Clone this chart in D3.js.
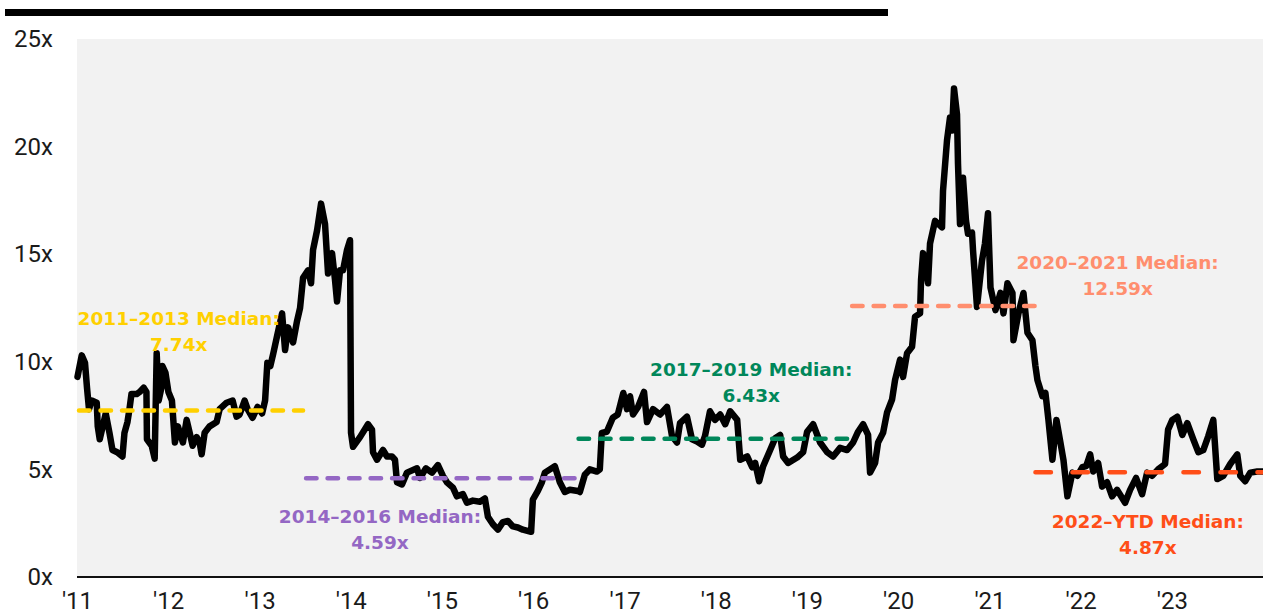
<!DOCTYPE html>
<html>
<head>
<meta charset="utf-8">
<script src="https://cdn.jsdelivr.net/npm/d3@7"></script>
<style>
  body { margin: 0; background: #fff; }
  svg { display: block; }
  .axis text { font-family: Roboto, "Liberation Sans", sans-serif; font-size: 24px; fill: #1a1a1a; }
  .note { font-family: "DejaVu Sans", sans-serif; font-weight: bold; font-size: 18.5px; }
</style>
</head>
<body>
<div id="chartContainer"></div>
<script>
// multiple over time
var dates = [
  // 2011
  "2011-01-03","2011-01-20","2011-02-02","2011-02-10","2011-02-18","2011-03-01","2011-03-21","2011-03-25",
  "2011-04-02","2011-04-26","2011-05-11","2011-05-23","2011-06-11","2011-07-02","2011-07-10","2011-07-22",
  "2011-07-30","2011-08-07","2011-08-28","2011-09-09","2011-09-25","2011-10-06","2011-10-08","2011-10-27",
  "2011-11-08","2011-11-16","2011-11-24","2011-12-05","2011-12-09","2011-12-21",
  // 2012
  "2012-01-02","2012-01-16","2012-01-28","2012-02-09","2012-02-29","2012-03-15","2012-03-27","2012-04-08",
  "2012-04-24","2012-05-06","2012-05-14","2012-05-26","2012-06-15","2012-07-13","2012-07-25","2012-08-22",
  "2012-09-15","2012-10-01","2012-10-13","2012-11-02","2012-11-14","2012-12-04","2012-12-24",
  // 2013
  "2013-01-11","2013-01-23","2013-02-01","2013-02-13","2013-02-25","2013-03-12","2013-04-01","2013-04-13",
  "2013-04-25","2013-05-15","2013-05-31","2013-06-12","2013-06-24","2013-07-14","2013-07-26","2013-08-03",
  "2013-08-19","2013-09-04","2013-09-20","2013-10-02","2013-10-18","2013-10-30","2013-11-07","2013-11-19",
  "2013-12-01","2013-12-17","2013-12-29",
  // 2014
  "2014-01-02","2014-01-10","2014-02-07","2014-03-11","2014-03-27","2014-03-31","2014-04-16","2014-05-10",
  "2014-05-26","2014-06-15","2014-06-27","2014-07-05","2014-07-25","2014-08-14","2014-09-23","2014-10-05",
  "2014-10-29","2014-11-22","2014-12-16",
  // 2015
  "2015-01-05","2015-01-21","2015-02-14","2015-03-02","2015-03-26","2015-04-11","2015-05-05","2015-06-02",
  "2015-06-22","2015-07-04","2015-07-24","2015-08-13","2015-09-02","2015-09-22","2015-10-12","2015-11-01",
  "2015-11-21","2015-12-24","2015-12-31",
  // 2016
  "2016-01-20","2016-02-05","2016-02-17","2016-03-28","2016-04-17","2016-05-07","2016-05-27","2016-06-28",
  "2016-07-06","2016-07-26","2016-08-15","2016-09-12","2016-09-24","2016-10-02","2016-10-22","2016-11-15",
  "2016-12-05","2016-12-27",
  // 2017
  "2017-01-11","2017-01-23","2017-02-04","2017-02-24","2017-03-20","2017-04-01","2017-04-25","2017-05-23",
  "2017-06-20","2017-07-10","2017-07-30","2017-08-11","2017-09-08","2017-09-28","2017-10-18","2017-11-07",
  "2017-11-19","2017-12-09","2017-12-29",
  // 2018
  "2018-01-19","2018-02-08","2018-02-28","2018-03-28","2018-04-09","2018-05-07","2018-05-27","2018-06-08",
  "2018-06-24","2018-07-10","2018-08-07","2018-08-27","2018-09-16","2018-09-28","2018-10-18","2018-11-23",
  "2018-12-17",
  // 2019
  "2019-01-02","2019-01-26","2019-02-23","2019-03-23","2019-04-16","2019-05-14","2019-06-11","2019-07-05",
  "2019-07-25","2019-08-14","2019-09-03","2019-09-11","2019-10-01","2019-10-13","2019-11-02","2019-11-18",
  "2019-12-08","2019-12-20",
  // 2020
  "2020-01-09","2020-01-21","2020-02-06","2020-02-26","2020-03-09","2020-03-29","2020-04-02","2020-04-10",
  "2020-04-30","2020-05-08","2020-05-28","2020-06-25","2020-06-29","2020-07-15","2020-07-27","2020-08-04",
  "2020-08-12","2020-08-24","2020-08-28","2020-09-05","2020-09-17","2020-09-29","2020-10-07","2020-10-23",
  "2020-10-27","2020-11-12","2020-12-02","2020-12-14","2020-12-26",
  // 2021
  "2021-01-05","2021-01-25","2021-02-14","2021-02-26","2021-03-14","2021-04-03","2021-04-07","2021-04-27",
  "2021-05-17","2021-06-02","2021-06-22","2021-07-04","2021-07-12","2021-08-01","2021-08-13","2021-08-25",
  "2021-09-10","2021-09-26","2021-10-12","2021-10-24","2021-11-09","2021-11-29","2021-12-19",
  // 2022
  "2022-01-08","2022-01-23","2022-02-08","2022-02-20","2022-03-12","2022-03-28","2022-04-17","2022-05-07",
  "2022-05-27","2022-06-28","2022-07-18","2022-08-11","2022-09-04","2022-09-24","2022-10-14","2022-11-07",
  "2022-12-05","2022-12-17",
  // 2023
  "2023-01-03","2023-01-23","2023-02-12","2023-03-04","2023-03-28","2023-04-17","2023-05-07","2023-05-27",
  "2023-06-16","2023-07-02","2023-07-26","2023-08-23","2023-09-20","2023-10-02","2023-10-22","2023-11-11",
  "2023-12-09","2023-12-29"
]

var multiples = [
  // 2011
  9.3,10.3,9.95,8.8,7.8,8.2,8.1,7.0,
  6.4,7.6,6.7,5.9,5.8,5.6,6.7,7.2,
  7.8,8.5,8.5,8.6,8.8,8.6,6.4,6.1,
  5.5,10.4,8.2,8.8,9.8,9.5,
  // 2012
  8.6,8.2,6.25,7.0,6.25,7.3,6.7,6.1,
  6.5,6.25,5.7,6.7,7.0,7.2,7.8,8.1,
  8.2,7.45,7.55,8.2,7.8,7.4,7.9,
  // 2013
  7.6,8.2,9.95,9.8,10.4,11.2,12.25,10.55,
  11.6,10.9,11.9,12.5,13.9,14.25,13.65,15.2,
  16.1,17.35,16.4,14.1,15.05,13.8,12.8,14.25,
  14.25,15.2,15.65,
  // 2014
  6.7,6.05,6.5,7.1,6.85,5.8,5.45,5.9,
  5.6,5.6,5.45,4.4,4.3,4.85,5.05,4.6,
  5.05,4.85,5.2,
  // 2015
  4.7,4.4,4.15,3.75,3.85,3.45,3.55,3.5,
  3.65,2.8,2.45,2.2,2.55,2.6,2.35,2.3,
  2.2,2.1,3.6,
  // 2016
  4.0,4.4,4.85,5.15,4.4,3.95,4.05,4.0,
  3.95,4.75,5.0,4.9,5.0,6.7,6.75,7.4,
  7.55,8.55,
  // 2017
  7.8,8.4,7.55,7.9,8.6,7.2,7.8,7.55,
  7.9,6.55,6.25,7.15,7.45,6.4,6.3,6.15,
  6.55,7.7,7.3,
  // 2018
  7.55,7.1,7.7,7.3,5.45,5.6,5.1,5.3,
  4.45,5.15,5.9,6.45,6.6,5.6,5.3,5.55,
  5.8,
  // 2019
  6.75,7.1,6.25,5.8,5.6,6.0,5.9,6.25,
  6.75,7.1,6.6,4.85,5.3,6.25,6.7,7.65,
  8.25,9.15,
  // 2020
  10.1,9.3,10.4,10.7,12.1,12.25,13.8,15.05,
  13.65,15.5,16.55,16.25,17.95,20.3,21.35,20.75,
  22.7,21.5,19.2,16.4,18.55,16.55,15.95,16.0,
  15.2,12.55,14.7,15.5,16.9,
  // 2021
  13.45,12.4,13.2,12.25,13.65,13.2,11.0,12.25,
  13.2,11.35,11.0,9.8,9.15,8.4,8.55,7.3,
  5.45,7.3,6.25,5.45,3.75,4.85,4.7,
  // 2022
  5.1,5.15,5.7,4.9,5.3,4.2,4.4,3.75,
  4.05,3.45,4.05,4.6,3.85,4.85,4.7,5.0,
  5.25,6.85,
  // 2023
  7.3,7.45,6.6,7.15,6.4,5.8,5.9,6.55,
  7.3,4.55,4.7,5.25,5.7,4.7,4.45,4.85,
  4.9,4.9
]

// period medians
var medianNames  = ["2011\u20132013 Median:", "2014\u20132016 Median:", "2017\u20132019 Median:", "2020\u20132021 Median:", "2022\u2013YTD Median:"]
var medianValues = [7.74, 4.59, 6.43, 12.59, 4.87]
var medianFrom   = ["2011-01-01", "2013-06-28", "2016-06-23", "2019-06-23", "2021-06-26"]
var medianTo     = ["2013-06-24", "2016-06-15", "2019-06-15", "2021-07-08", "2024-01-01"]

var yTicks = [0, 5, 10, 15, 20, 25]
var xTicks = ["2011","2012","2013","2014","2015","2016","2017","2018","2019","2020","2021","2022","2023"]

// styling / label placement
var medianColors = ["#FFD000", "#9467C4", "#00875A", "#FF8E6E", "#FF4E18"]
var medianDash   = ["10.5,11", "10.5,11", "10.5,11", "10.5,11", "15.5,21.5"]
var noteAt = [["2012-02-12", 11.71], ["2014-04-28", 2.51], ["2018-05-23", 9.34], ["2022-05-29", 14.31], ["2022-09-27", 2.28]]

var parseDate = d3.timeParse("%Y-%m-%d")
var parseYear = d3.timeParse("%Y")

var data = dates.map(function(d, i) { return { date: parseDate(d), value: multiples[i] } })

var width = 1263, height = 616

var svg = d3.select('#chartContainer').append('svg')
    .attr('width', width)
    .attr('height', height)

var xScale = d3.scaleTime()
    .domain([parseDate("2011-01-01"), parseDate("2024-01-01")])
    .range([77, 1263])

var yScale = d3.scaleLinear()
    .domain([0, 25])
    .range([577, 39])

// title rule
svg.append('rect')
    .attr('x', 5).attr('y', 9)
    .attr('width', 883).attr('height', 7)
    .attr('fill', '#000')

// plot background
svg.append('rect')
    .attr('x', xScale.range()[0])
    .attr('y', yScale(25))
    .attr('width', xScale.range()[1] - xScale.range()[0])
    .attr('height', yScale(0) - yScale(25))
    .attr('fill', '#F2F2F2')

// axes
svg.append('g')
    .attr('class', 'axis')
    .attr('transform', 'translate(77,0)')
    .call(d3.axisLeft(yScale).tickValues(yTicks).tickSize(0).tickPadding(24).tickFormat(function(d) { return d + 'x' }))
    .call(function(g) { g.select('.domain').remove() })

svg.append('g')
    .attr('class', 'axis')
    .attr('transform', 'translate(0,' + yScale(0) + ')')
    .call(d3.axisBottom(xScale).tickValues(xTicks.map(parseYear)).tickSize(0).tickPadding(0).tickFormat(d3.timeFormat("'%y")))
    .call(function(g) { g.select('.domain').remove() })
    .selectAll('text')
    .attr('dy', null)
    .attr('y', 32)

svg.append('line')
    .attr('x1', xScale.range()[0]).attr('x2', xScale.range()[1])
    .attr('y1', yScale(0)).attr('y2', yScale(0))
    .attr('stroke', '#111')
    .attr('stroke-width', 2)

// series
var line = d3.line()
    .x(function(d) { return xScale(d.date) })
    .y(function(d) { return yScale(d.value) })

svg.append('path')
    .datum(data)
    .attr('d', line)
    .attr('fill', 'none')
    .attr('stroke', '#000')
    .attr('stroke-width', 6.5)
    .attr('stroke-linejoin', 'round')
    .attr('stroke-linecap', 'round')

// median lines
svg.selectAll('.median')
    .data(medianValues)
    .enter()
    .append('line')
    .attr('class', 'median')
    .attr('x1', function(d, i) { return xScale(parseDate(medianFrom[i])) + 2 })
    .attr('x2', function(d, i) { return xScale(parseDate(medianTo[i])) })
    .attr('y1', function(d) { return yScale(d) })
    .attr('y2', function(d) { return yScale(d) })
    .attr('stroke', function(d, i) { return medianColors[i] })
    .attr('stroke-width', 4.5)
    .attr('stroke-linecap', 'round')
    .attr('stroke-dasharray', function(d, i) { return medianDash[i] })

// median notes
var notes = svg.selectAll('.note')
    .data(medianValues)
    .enter()
    .append('text')
    .attr('class', 'note')
    .attr('text-anchor', 'middle')
    .attr('fill', function(d, i) { return medianColors[i] })
    .attr('transform', function(d, i) {
        return 'translate(' + xScale(parseDate(noteAt[i][0])) + ',' + yScale(noteAt[i][1]) + ')'
    })

notes.append('tspan')
    .attr('x', 0).attr('y', 0)
    .text(function(d, i) { return medianNames[i] })

notes.append('tspan')
    .attr('x', 0).attr('y', 26)
    .text(function(d) { return d.toFixed(2) + 'x' })
</script>
</body>
</html>
